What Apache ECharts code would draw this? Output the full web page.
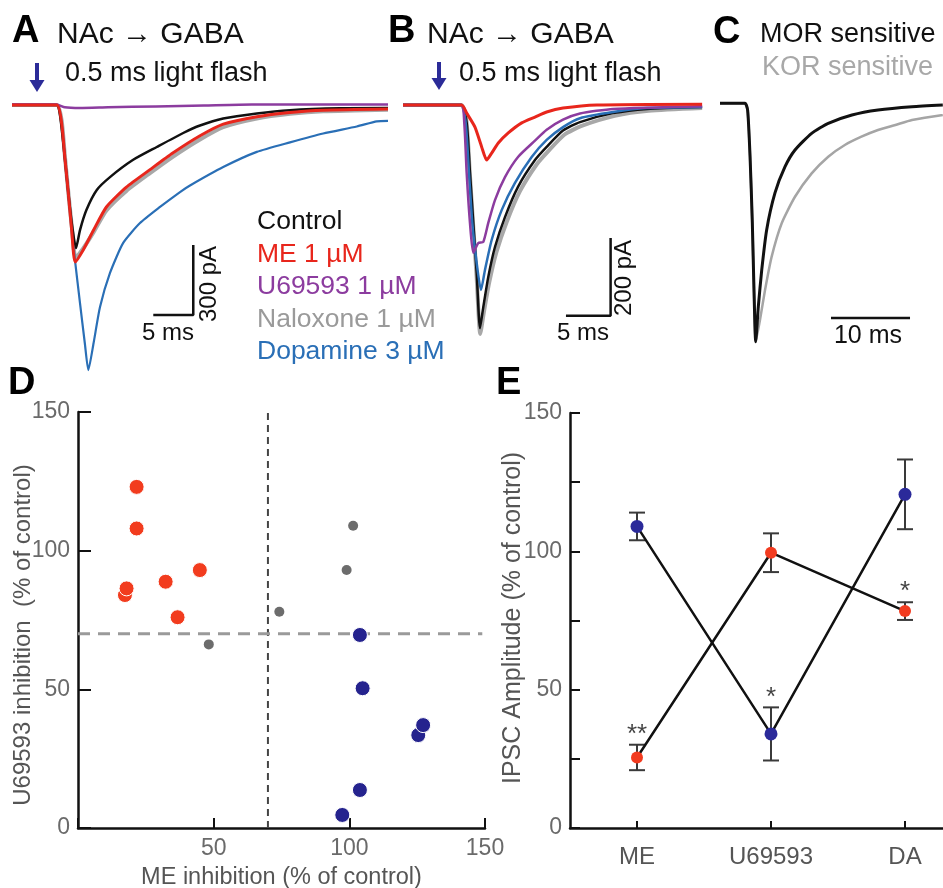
<!DOCTYPE html>
<html><head><meta charset="utf-8">
<script src="https://cdn.jsdelivr.net/npm/echarts@6/dist/echarts.min.js"></script>
<style>html,body{margin:0;padding:0;background:#fff}#c{width:943px;height:888px}</style>
</head><body><div id="c"></div>
<script>
// ---------- Panel A traces: [time (ms), current (pA)] ----------
const aControl = [[0,0],[5.6,0],[6.0,-43],[6.5,-193],[7.0,-364],[7.5,-514],[8.0,-613],[8.5,-536],[9.3,-450],[10.6,-364],[12.25,-309],[15.1,-236],[18.1,-180],[21.4,-120],[23.5,-88],[26.4,-58],[30.6,-36],[34.75,-22],[41,-14],[47,-13]];
const aME = [[0,0],[5.6,0],[6.2,-77],[6.6,-223],[7.0,-364],[7.46,-536],[7.9,-673],[8.9,-621],[10.2,-536],[11.8,-437],[14.3,-352],[17.25,-277],[20.1,-206],[23.5,-132],[26.4,-82],[30.6,-50],[34.75,-32],[38.9,-22],[47,-17]];
const aU69593 = [[0,2],[5.6,2],[6.6,-10],[8.5,-13],[12,-10],[18,-6],[24,-2],[30,2],[47,2]];
const aNaloxone = [[0,0],[5.6,0],[6.2,-65],[6.6,-215],[7.0,-360],[7.5,-530],[7.95,-655],[8.9,-615],[10.2,-545],[11.8,-452],[14.3,-368],[17.25,-292],[20.1,-222],[23.5,-148],[26.4,-95],[30.6,-58],[34.75,-38],[38.9,-27],[47,-20]];
const aDopamine = [[0,0],[5.6,0],[6.2,-77],[6.6,-223],[7.0,-364],[7.46,-536],[7.9,-673],[8.5,-849],[9.1,-1020],[9.54,-1136],[10.2,-1020],[11.0,-866],[12.25,-720],[13.9,-591],[16.0,-506],[18.5,-437],[21.0,-373],[22.25,-345],[26.4,-266],[30.6,-201],[34.75,-160],[38.9,-122],[43.1,-92],[45.6,-70],[47,-68]];
const aScaleBar = [[17.66,-900],[22.66,-900],[22.66,-600]]; // 5 ms, 300 pA

// ---------- Panel B traces ----------
const bControl = [[0,0],[6.5,0],[7.13,-46],[7.5,-175],[7.87,-304],[8.25,-433],[8.62,-575],[8.99,-521],[9.55,-443],[10.3,-366],[11.42,-289],[12.88,-211],[14.78,-142],[16.09,-108],[17.92,-66],[19.82,-44],[23.52,-21],[27.32,-10],[33.5,-5]];
const bNaloxone = [[0,0],[6.5,0],[7.1,-40],[7.48,-175],[7.86,-310],[8.25,-445],[8.65,-590],[9.05,-535],[9.65,-458],[10.45,-380],[11.6,-302],[13.1,-222],[15.0,-152],[16.3,-118],[18.1,-76],[20.0,-54],[23.7,-28],[27.5,-15],[33.5,-8]];
const bDopamine = [[0,0],[6.5,0],[7.02,-46],[7.39,-175],[7.76,-304],[8.25,-407],[8.73,-477],[9.18,-425],[9.93,-348],[11.05,-271],[12.54,-201],[14.41,-134],[16.09,-90],[17.92,-57],[19.82,-34],[23.52,-18],[27.32,-8],[33.5,-5]];
const bU69593 = [[0,0],[6.5,0],[6.86,-46],[7.13,-175],[7.5,-304],[7.87,-381],[8.43,-356],[8.99,-353],[9.55,-304],[10.3,-245],[11.42,-186],[12.88,-134],[14.78,-92],[16.09,-64],[17.92,-38],[19.82,-22],[23.52,-10],[33.5,-3]];
const bME = [[0,0],[6.57,0],[7.13,-21],[8.06,-57],[8.81,-108],[9.37,-142],[9.93,-124],[10.67,-98],[11.79,-72],[13.29,-46],[14.78,-31],[16.09,-18],[17.92,-8],[21.72,0],[33.5,2]];
const bScaleBar = [[18.25,-543],[23.25,-543],[23.25,-343]]; // 5 ms, 200 pA

// ---------- Panel C normalized traces ----------
const cMOR = [[0,0],[3.16,0],[3.5,-0.03],[3.8,-0.22],[4.09,-0.5],[4.3,-0.78],[4.52,-1],[4.85,-0.853],[5.28,-0.7],[5.91,-0.53],[6.96,-0.376],[8.23,-0.266],[9.49,-0.196],[11.6,-0.126],[13.7,-0.084],[16.7,-0.049],[20,-0.028],[24.3,-0.014],[28.2,-0.007]];
const cKOR = [[0,0],[3.16,0],[3.5,-0.03],[3.8,-0.22],[4.09,-0.5],[4.3,-0.78],[4.52,-1],[5.06,-0.909],[5.7,-0.783],[6.54,-0.643],[7.81,-0.503],[9.49,-0.392],[11.6,-0.294],[13.7,-0.224],[15.8,-0.175],[17.9,-0.14],[20,-0.112],[22.2,-0.091],[24.3,-0.07],[28.2,-0.049]];
const cScaleBar = [[14.05,-0.9],[24.05,-0.9]]; // 10 ms

// ---------- Panel D scatter: [ME inhibition, U69593 inhibition] ----------
const dMorCells = [[21.6,123],[21.6,108],[17.3,84],[17.9,86.4],[32.3,88.8],[44.9,93],[36.7,76]];
const dOtherCells = [[48.2,66.2],[74.2,78],[99,93],[101.4,109]];
const dKorCells = [[103.9,69.6],[104.9,50.4],[125.4,33.5],[127.2,37.1],[103.9,13.7],[97.4,4.7]];
const dThreshold = 70;

// ---------- Panel E ----------
const eCategories = ['ME', 'U69593', 'DA'];
const eKorMean = [109, 34, 120.6];
const eKorSem = [5, 9.6, 12.6];
const eMorMean = [25.5, 99.5, 78.4];
const eMorSem = [4.6, 7, 3.2];
const eMorStars = ['**', '', '*'];
const eKorStars = ['', '*', ''];
const eCatPos = eCategories.map((c, i) => i + 0.5);

const FONT = 'Liberation Sans, Arial, Helvetica, sans-serif';
const RED = '#e8261c', BLACK = '#111111', PURPLE = '#8c3c9f', GRAY = '#a8a8a8', BLUE = '#2a6fb6';
const DRED = '#f23c1e', DBLUE = '#25238e', DGRAY = '#6c6c6c';

function trace(data, color, width, xi, z) {
  return { type: 'line', data: data, xAxisIndex: xi, yAxisIndex: xi, showSymbol: false, symbol: 'none',
    smooth: 0.2, z: z || 2, lineStyle: { color: color, width: width }, silent: true };
}
function txt(x, y, s, size, color, opt) {
  opt = opt || {};
  return { type: 'text', x: x, y: y, rotation: opt.rot || 0,
    style: { text: s, x: 0, y: 0, fontSize: size, fontFamily: FONT, fontWeight: opt.bold ? 'bold' : 'normal',
      fill: color, align: opt.align || 'left', verticalAlign: 'middle',
      textAlign: opt.align || 'left', textVerticalAlign: 'middle' } };
}
function arrow(x, y1, y2) {
  return [
    { type: 'line', shape: { x1: x, y1: y1, x2: x, y2: y2 - 8 }, style: { stroke: '#2b2b98', lineWidth: 4 } },
    { type: 'polygon', shape: { points: [[x - 7.5, y2 - 12], [x + 7.5, y2 - 12], [x, y2]] }, style: { fill: '#2b2b98' } }
  ];
}

const hidden = { show: false };
const gb = { containLabel: false, outerBoundsMode: 'none' };
const grids = [
  Object.assign({ left: 12, top: 93.33, width: 376, height: 291.67 }, gb),
  Object.assign({ left: 403, top: 85.6, width: 303.6, height: 271.6 }, gb),
  Object.assign({ left: 720, top: 79.46, width: 222.8, height: 286.1 }, gb),
  Object.assign({ left: 78, top: 412, width: 407, height: 416 }, gb),
  Object.assign({ left: 570, top: 413, width: 373, height: 415 }, gb)
];

const axisLineD = { show: true, lineStyle: { color: '#111', width: 2.5 } };
const tickFont = { fontSize: 23, color: '#6a6a6a', fontFamily: FONT };

const xAxes = [
  { gridIndex: 0, type: 'value', min: 0, max: 47, show: false },
  { gridIndex: 1, type: 'value', min: 0, max: 34, show: false },
  { gridIndex: 2, type: 'value', min: 0, max: 28.2, show: false },
  { gridIndex: 3, type: 'value', min: 0, max: 150, interval: 50, splitLine: hidden,
    axisLine: axisLineD, axisTick: { inside: true, length: 10, lineStyle: { color: '#111', width: 2 } },
    axisLabel: Object.assign({ margin: 9, formatter: v => v === 0 ? '' : v }, tickFont),
    name: 'ME inhibition (% of control)', nameLocation: 'middle', nameGap: 38,
    nameTextStyle: { fontSize: 23.5, color: '#555', fontFamily: FONT } },
  { gridIndex: 4, type: 'value', min: 0, max: 373 / 134, splitLine: hidden,
    axisLine: axisLineD,
    axisTick: { inside: true, length: 7, customValues: eCatPos, lineStyle: { color: '#111', width: 2 } },
    axisLabel: { customValues: eCatPos, margin: 17, fontSize: 24, color: '#555', fontFamily: FONT,
      formatter: v => eCategories[Math.round(v - 0.5)] } }
];
const yAxes = [
  { gridIndex: 0, type: 'value', min: -1200, max: 50, show: false },
  { gridIndex: 1, type: 'value', min: -650, max: 50, show: false },
  { gridIndex: 2, type: 'value', min: -1.1, max: 0.1, show: false },
  { gridIndex: 3, type: 'value', min: 0, max: 150, interval: 50, splitLine: hidden,
    axisLine: axisLineD, axisTick: { inside: true, length: 13, lineStyle: { color: '#111', width: 2 } },
    axisLabel: Object.assign({ margin: 8 }, tickFont) },
  { gridIndex: 4, type: 'value', min: 0, max: 150, interval: 25, splitLine: hidden,
    axisLine: axisLineD, axisTick: { inside: true, length: 10, lineStyle: { color: '#111', width: 2 } },
    axisLabel: Object.assign({ margin: 8, formatter: v => v % 50 === 0 ? v : '' }, tickFont) }
];

function errBars(means, sems, z) {
  return { type: 'custom', xAxisIndex: 4, yAxisIndex: 4, z: z, silent: true,
    data: means.map((m, i) => [eCatPos[i], m, sems[i]]),
    renderItem: function (params, api) {
      const i = api.value(0), m = api.value(1), s = api.value(2);
      const t = api.coord([i, m + s]), b = api.coord([i, m - s]);
      const hw = 8, st = { stroke: '#3a3a3a', lineWidth: 2 };
      return { type: 'group', children: [
        { type: 'line', shape: { x1: t[0], y1: t[1], x2: b[0], y2: b[1] }, style: st },
        { type: 'line', shape: { x1: t[0] - hw, y1: t[1], x2: t[0] + hw, y2: t[1] }, style: st },
        { type: 'line', shape: { x1: b[0] - hw, y1: b[1], x2: b[0] + hw, y2: b[1] }, style: st }
      ] };
    } };
}
function stars(means, sems, labels) {
  return { type: 'scatter', xAxisIndex: 4, yAxisIndex: 4, symbolSize: 0, z: 6, silent: true,
    data: means.map((m, i) => [eCatPos[i], m + sems[i], labels[i]]),
    label: { show: true, position: 'top', distance: -3, formatter: p => p.data[2],
      fontSize: 26, color: '#111', fontFamily: FONT } };
}
function eLine(means, color, size) {
  return { type: 'line', xAxisIndex: 4, yAxisIndex: 4, data: means.map((m, i) => [eCatPos[i], m]), z: 4,
    symbol: 'circle', symbolSize: size, showSymbol: true,
    lineStyle: { color: '#111', width: 2.5 }, itemStyle: { color: color } };
}

const series = [
  // A
  trace(aNaloxone, GRAY, 4, 0, 1),
  trace(aDopamine, BLUE, 2.2, 0, 2),
  trace(aControl, BLACK, 2.5, 0, 3),
  trace(aU69593, PURPLE, 2.5, 0, 4),
  trace(aME, RED, 3, 0, 5),
  { type: 'line', data: aScaleBar, xAxisIndex: 0, yAxisIndex: 0, symbol: 'none', lineStyle: { color: '#111', width: 2.5 } },
  // B
  trace(bNaloxone, GRAY, 4, 1, 1),
  trace(bControl, BLACK, 2.5, 1, 2),
  trace(bDopamine, BLUE, 2.5, 1, 3),
  trace(bU69593, PURPLE, 2.5, 1, 4),
  trace(bME, RED, 3, 1, 5),
  { type: 'line', data: bScaleBar, xAxisIndex: 1, yAxisIndex: 1, symbol: 'none', lineStyle: { color: '#111', width: 2.5 } },
  // C
  trace(cKOR, '#a5a5a5', 2.5, 2, 1),
  trace(cMOR, BLACK, 3, 2, 2),
  { type: 'line', data: cScaleBar, xAxisIndex: 2, yAxisIndex: 2, symbol: 'none', lineStyle: { color: '#111', width: 2.5 } },
  // D
  { type: 'line', xAxisIndex: 3, yAxisIndex: 3, symbol: 'none', data: [[dThreshold, 0], [dThreshold, 150]],
    lineStyle: { color: '#444', width: 2, type: [7, 5] }, z: 1 },
  { type: 'line', xAxisIndex: 3, yAxisIndex: 3, symbol: 'none', data: [[0, dThreshold], [149, dThreshold]],
    lineStyle: { color: '#9a9a9a', width: 3, type: [12, 8] }, z: 1 },
  { type: 'scatter', xAxisIndex: 3, yAxisIndex: 3, data: dMorCells, symbolSize: 15, z: 3,
    itemStyle: { color: DRED, borderColor: '#fff', borderWidth: 1, opacity: 1 } },
  { type: 'scatter', xAxisIndex: 3, yAxisIndex: 3, data: dOtherCells, symbolSize: 10, z: 3,
    itemStyle: { color: DGRAY, opacity: 1 } },
  { type: 'scatter', xAxisIndex: 3, yAxisIndex: 3, data: dKorCells, symbolSize: 15, z: 3,
    itemStyle: { color: DBLUE, borderColor: '#fff', borderWidth: 1, opacity: 1 } },
  // E
  errBars(eKorMean, eKorSem, 2),
  errBars(eMorMean, eMorSem, 2),
  eLine(eKorMean, '#2b2a9a', 13),
  eLine(eMorMean, '#f23b1f', 12),
  stars(eMorMean, eMorSem, eMorStars),
  stars(eKorMean, eKorSem, eKorStars)
];

const graphics = [
  txt(12, 31.5, 'A', 38, '#000', { bold: true }),
  txt(57, 35, 'NAc \u2192 GABA', 30, '#111'),
  ...arrow(37, 63, 92),
  txt(65, 74, '0.5 ms light flash', 27, '#111'),
  txt(388, 31.5, 'B', 38, '#000', { bold: true }),
  txt(427, 35, 'NAc \u2192 GABA', 30, '#111'),
  ...arrow(439, 62, 90),
  txt(459, 74, '0.5 ms light flash', 27, '#111'),
  txt(713, 33, 'C', 38, '#000', { bold: true }),
  txt(760, 35, 'MOR sensitive', 27, '#111'),
  txt(762, 68, 'KOR sensitive', 27, '#a8a8a8'),
  txt(257, 222, 'Control', 26.5, '#111'),
  txt(257, 254.5, 'ME 1 \u00b5M', 26.5, RED),
  txt(257, 287, 'U69593 1 \u00b5M', 26.5, PURPLE),
  txt(257, 319.5, 'Naloxone 1 \u00b5M', 26.5, '#9a9a9a'),
  txt(257, 352, 'Dopamine 3 \u00b5M', 26.5, BLUE),
  txt(168, 333, '5 ms', 24, '#111', { align: 'center' }),
  txt(209, 284, '300 pA', 24, '#111', { align: 'center', rot: Math.PI / 2 }),
  txt(583, 333, '5 ms', 24, '#111', { align: 'center' }),
  txt(624, 278, '200 pA', 24, '#111', { align: 'center', rot: Math.PI / 2 }),
  txt(868, 336, '10 ms', 25, '#111', { align: 'center' }),
  txt(8, 384, 'D', 38, '#000', { bold: true }),
  txt(496, 384, 'E', 38, '#000', { bold: true }),
  txt(23, 635, 'U69593 inhibition  (% of control)', 24, '#555', { align: 'center', rot: Math.PI / 2 }),
  txt(513, 618, 'IPSC Amplitude (% of control)', 25, '#555', { align: 'center', rot: Math.PI / 2 })
];

const chart = echarts.init(document.getElementById('c'));
chart.setOption({
  animation: false,
  backgroundColor: '#fff',
  grid: grids,
  xAxis: xAxes,
  yAxis: yAxes,
  series: series,
  graphic: { elements: graphics }
});
</script>
</body></html>
